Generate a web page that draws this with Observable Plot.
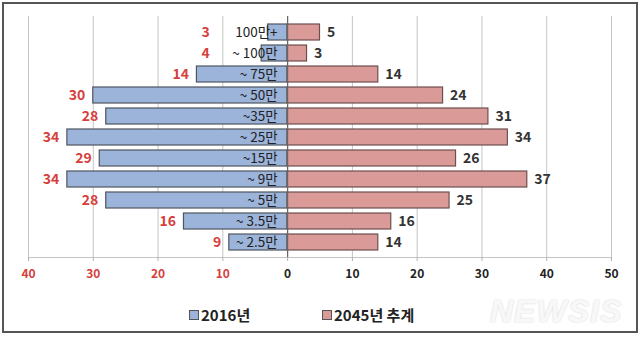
<!DOCTYPE html>
<html>
<head>
<meta charset="utf-8">
<script src="https://cdn.jsdelivr.net/npm/d3@7"></script>
<script src="https://cdn.jsdelivr.net/npm/@observablehq/plot@0.6"></script>
<style>
  html, body { margin: 0; padding: 0; background: #fff; }
  #wrap { position: relative; width: 640px; height: 340px; overflow: hidden; font-family: "Noto Sans CJK KR", "Noto Sans", sans-serif; }
  #border { position: absolute; left: 2px; top: 2px; width: 632px; height: 327px; border: 2px solid #555; pointer-events: none; }
  #chart { position: absolute; left: 0; top: 0; }
  #legend { position: absolute; left: 0; top: 304px; width: 640px; height: 22px; }
  .item { position: absolute; top: 0; display: flex; align-items: center; font-weight: bold; font-size: 15px; color: #222; line-height: 22px; }
  .sw { width: 8px; height: 8px; border: 1px solid #555; margin-right: 2px; }
  #mark { position: absolute; left: 490px; top: 293px; font: italic 900 32px "Liberation Sans", Arial, sans-serif; color: #f8f8f8; letter-spacing: 1px; text-shadow: 0 0 2px #d0d0d0; }
</style>
</head>
<body>
<div id="wrap">
  <div id="chart"></div>
  <div id="legend"></div>
  <div id="mark">NEWSIS</div>
  <div id="border"></div>
</div>
<script>
const categories = ["100만+", "~ 100만", "~ 75만", "~ 50만", "~35만", "~ 25만", "~15만", "~ 9만", "~ 5만", "~ 3.5만", "~ 2.5만"];
const values2016 = [3, 4, 14, 30, 28, 34, 29, 34, 28, 16, 9];
const values2045 = [5, 3, 14, 24, 31, 34, 26, 37, 25, 16, 14];
const ticksLeft = [-40, -30, -20, -10];
const ticksRight = [0, 10, 20, 30, 40, 50];
const seriesNames = ["2016년", "2045년 추계"];
const colors = ["#9cb3da", "#d99a98"];

const rows = categories.map((c, i) => ({cat: c, a: values2016[i], b: values2045[i]}));

const chart = Plot.plot({
  width: 640,
  height: 290,
  marginTop: 16,
  marginBottom: 33,
  marginLeft: 28,
  marginRight: 29,
  style: {fontFamily: "'Noto Sans CJK KR', 'Noto Sans', sans-serif", background: "transparent"},
  x: {domain: [-40, 50], axis: null},
  y: {domain: categories, paddingInner: 0.26, paddingOuter: 0.13, axis: null},
  marks: [
    Plot.gridX(ticksLeft.concat(ticksRight), {stroke: "#c4c4c4", strokeOpacity: 1}),
    Plot.frame({anchor: "bottom", stroke: "#c4c4c4"}),
    Plot.axisX(ticksLeft, {tickFormat: d => Math.abs(d), fill: "#d6403c", stroke: "#b0b0b0", fontSize: 12, fontWeight: "bold", tickSize: 4, tickPadding: 8}),
    Plot.axisX(ticksRight, {tickFormat: d => d, fill: "#222", stroke: "#b0b0b0", fontSize: 12, fontWeight: "bold", tickSize: 4, tickPadding: 8}),
    Plot.barX(rows, {y: "cat", x1: d => -d.a, x2: 0, fill: colors[0], stroke: "#4f5560", strokeWidth: 1.2}),
    Plot.barX(rows, {y: "cat", x1: 0, x2: d => d.b, fill: colors[1], stroke: "#6e4f4f", strokeWidth: 1.2}),
    Plot.ruleX([0], {stroke: "#666", strokeWidth: 1.2}),
    Plot.text(rows, {y: "cat", x: 0, text: "cat", textAnchor: "end", dx: -10, fill: "#222", fontSize: 13.5}),
    Plot.text(rows, {y: "cat", x: d => -(d.a < 5 ? 10.8 : d.a), text: d => d.a, textAnchor: "end", dx: -8, fill: "#d6403c", fontSize: 14, fontWeight: "bold"}),
    Plot.text(rows, {y: "cat", x: d => d.b, text: d => d.b, textAnchor: "start", dx: 7, fill: "#333", fontSize: 14, fontWeight: "bold"})
  ]
});
document.getElementById("chart").appendChild(chart);

const legend = document.getElementById("legend");
const lefts = [189, 322];
seriesNames.forEach((name, i) => {
  const item = document.createElement("div");
  item.className = "item";
  item.style.left = lefts[i] + "px";
  const sw = document.createElement("span");
  sw.className = "sw";
  sw.style.background = colors[i];
  const t = document.createElement("span");
  t.textContent = name;
  item.appendChild(sw);
  item.appendChild(t);
  legend.appendChild(item);
});
</script>
</body>
</html>
